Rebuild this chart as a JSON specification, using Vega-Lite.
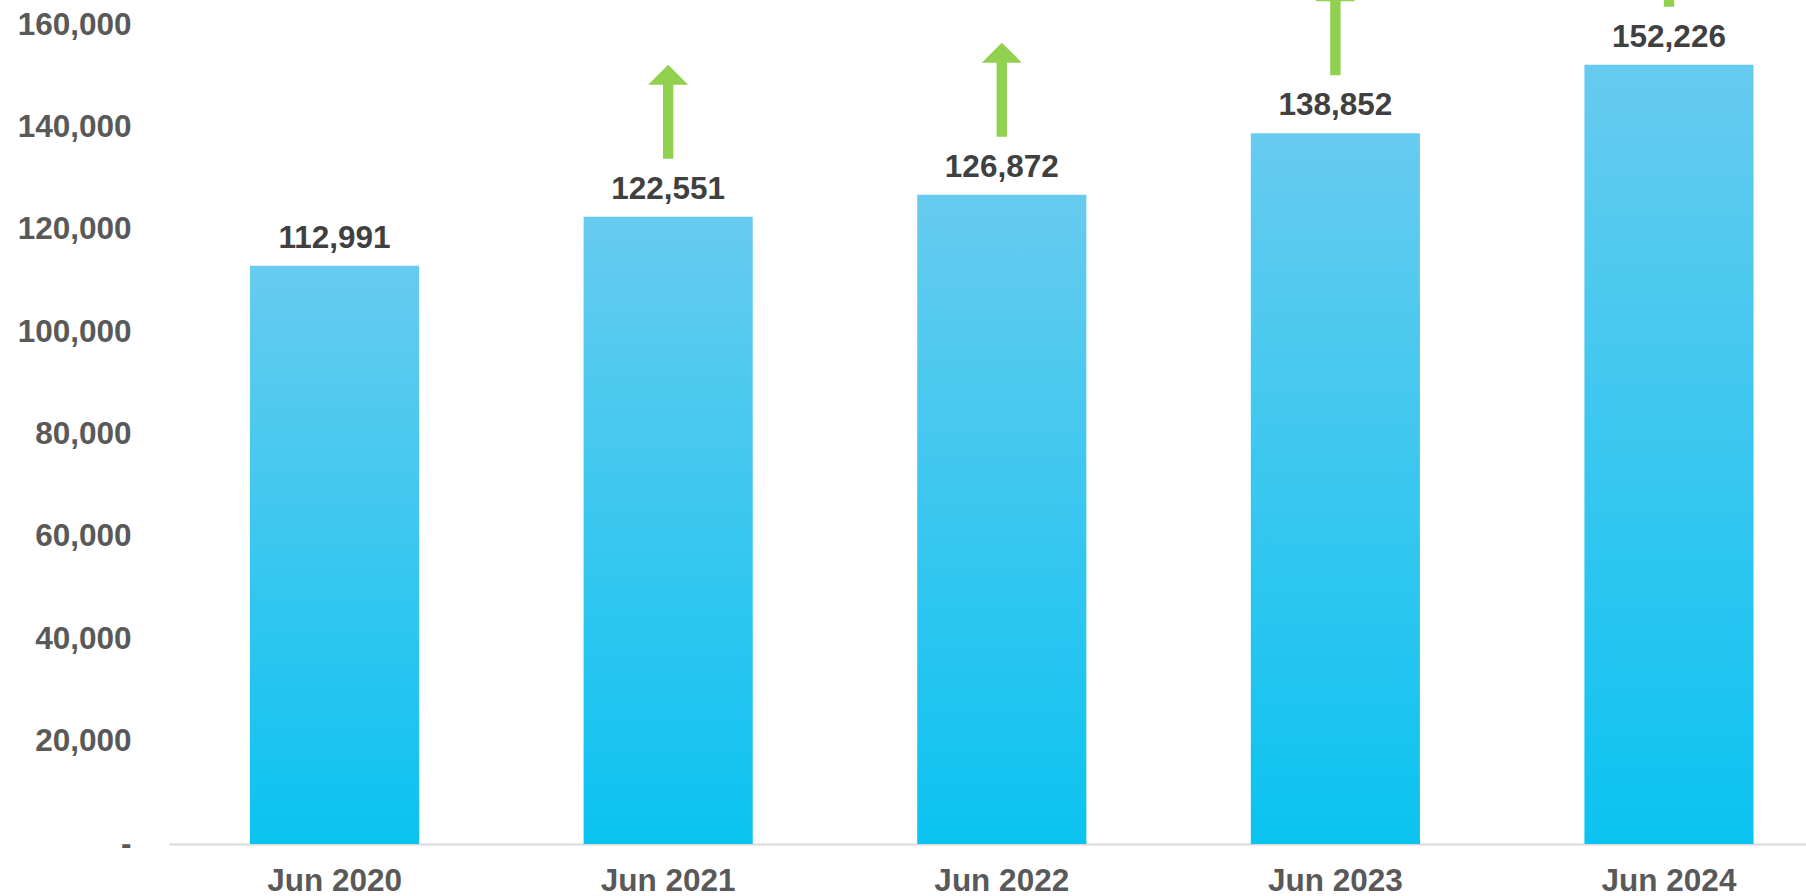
{
  "$schema": "https://vega.github.io/schema/vega-lite/v6.json",
  "autosize": "none",
  "width": 1637,
  "height": 844,
  "padding": {"left": 169, "top": 0, "right": 0, "bottom": 52},
  "background": "white",
  "config": {
    "view": {"stroke": null},
    "font": "Liberation Sans"
  },
  "data": {
    "values": [
      {"period": "Jun 2020", "members": 112991, "growth": false},
      {"period": "Jun 2021", "members": 122551, "growth": true},
      {"period": "Jun 2022", "members": 126872, "growth": true},
      {"period": "Jun 2023", "members": 138852, "growth": true},
      {"period": "Jun 2024", "members": 152226, "growth": true}
    ]
  },
  "encoding": {
    "x": {
      "field": "period",
      "type": "ordinal",
      "sort": null,
      "scale": {"paddingInner": 0.493, "paddingOuter": 0.2, "align": 0.607},
      "axis": {
        "title": null,
        "labelAngle": 0,
        "domain": true,
        "domainColor": "#D9D9D9",
        "domainWidth": 2,
        "ticks": false,
        "tickSize": 0,
        "labelPadding": 21,
        "labelFont": "Liberation Sans",
        "labelFontSize": 31.5,
        "labelFontWeight": "bold",
        "labelColor": "#595959"
      }
    },
    "y": {
      "field": "members",
      "type": "quantitative",
      "scale": {"domain": [0, 164900], "nice": false, "zero": true},
      "axis": {
        "title": null,
        "values": [0, 20000, 40000, 60000, 80000, 100000, 120000, 140000, 160000],
        "labelExpr": "datum.value === 0 ? '-\u00a0\u00a0' : format(datum.value, ',')",
        "domain": false,
        "ticks": false,
        "tickSize": 0,
        "grid": false,
        "labelPadding": 38,
        "labelFont": "Liberation Sans",
        "labelFontSize": 31.5,
        "labelFontWeight": "bold",
        "labelColor": "#595959"
      }
    }
  },
  "layer": [
    {
      "mark": {
        "type": "bar",
        "color": {
          "gradient": "linear",
          "x1": 0, "y1": 0, "x2": 0, "y2": 1,
          "stops": [
            {"offset": 0, "color": "#67CBEF"},
            {"offset": 1, "color": "#0BC3F0"}
          ]
        }
      }
    },
    {
      "mark": {
        "type": "text",
        "baseline": "alphabetic",
        "align": "center",
        "dy": -18,
        "font": "Liberation Sans",
        "fontSize": 31.5,
        "fontWeight": "bold",
        "color": "#404040"
      },
      "encoding": {
        "text": {"field": "members", "type": "quantitative", "format": ","}
      }
    },
    {
      "transform": [{"filter": "datum.growth"}],
      "mark": {
        "type": "point",
        "shape": "M 0 -2.35 L 1 -1.35 L 0.26 -1.35 L 0.26 2.35 L -0.26 2.35 L -0.26 -1.35 L -1 -1.35 Z",
        "size": 1600,
        "filled": true,
        "opacity": 1,
        "color": "#92D050",
        "strokeWidth": 0,
        "yOffset": -105
      }
    }
  ]
}
